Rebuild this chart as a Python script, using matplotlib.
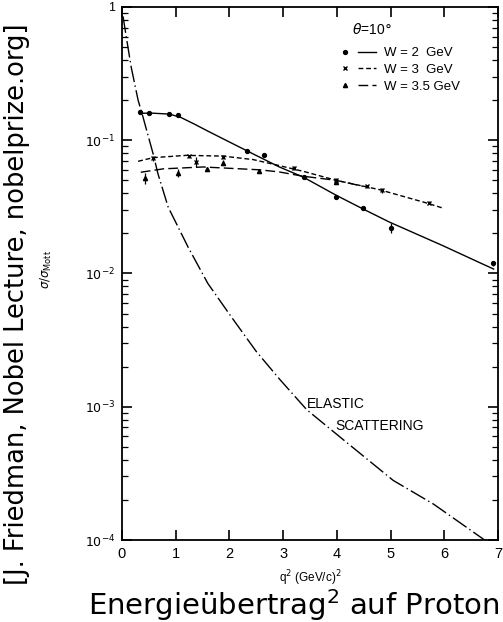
import matplotlib
matplotlib.use("Agg")
import matplotlib.pyplot as plt
from matplotlib.lines import Line2D
from matplotlib.legend_handler import HandlerTuple
from matplotlib.ticker import LogLocator, FixedLocator, NullFormatter

plt.rcParams['font.family'] = ['Liberation Sans', 'DejaVu Sans']

# --- Messpunkte (q^2 in (GeV/c)^2, sigma/sigma_Mott) ---
w2_q2 = [0.33, 0.50, 0.87, 1.04, 2.33, 2.65, 3.38, 3.99, 4.49, 5.01, 6.90]
w2_val = [0.162, 0.159, 0.158, 0.155, 0.083, 0.077, 0.053, 0.0375, 0.031, 0.022, 0.0119]
w2_err = [0.004, 0.003, 0.003, 0.003, 0.002, 0.002, 0.002, 0.0015, 0.001, 0.002, 0.0006]

w3_q2 = [0.57, 1.25, 1.38, 1.88, 3.20, 3.99, 4.57, 4.85, 5.71]
w3_val = [0.073, 0.076, 0.069, 0.075, 0.062, 0.050, 0.045, 0.042, 0.034]
w3_err = [0.003, 0.002, 0.006, 0.003, 0.002, 0.002, 0.001, 0.002, 0.001]

w35_q2 = [0.42, 1.05, 1.59, 1.88, 2.55, 3.99]
w35_val = [0.052, 0.057, 0.0605, 0.068, 0.059, 0.049]
w35_err = [0.005, 0.004, 0.001, 0.003, 0.001, 0.002]

# --- Kurven ---
w2_fit_q2 = [0.33, 0.52, 0.89, 1.10, 1.35, 1.60, 2.00, 2.44, 2.93, 3.37, 3.99, 4.48, 4.98, 5.97, 6.71, 6.92]
w2_fit_val = [0.159, 0.160, 0.157, 0.148, 0.132, 0.117, 0.097, 0.079, 0.063, 0.053, 0.0386, 0.0306, 0.0243, 0.0162, 0.0118, 0.0108]

w3_fit_q2 = [0.30, 0.58, 1.20, 1.88, 2.44, 2.93, 3.42, 3.99, 4.79, 5.65, 5.97]
w3_fit_val = [0.0695, 0.074, 0.077, 0.076, 0.0716, 0.0645, 0.0578, 0.050, 0.0426, 0.034, 0.031]

w35_fit_q2 = [0.35, 0.77, 1.51, 2.56, 2.93, 3.37, 3.99, 4.50]
w35_fit_val = [0.0575, 0.061, 0.063, 0.060, 0.0578, 0.0537, 0.050, 0.045]

el_q2 = [0.02, 0.05, 0.17, 0.30, 0.39, 0.58, 0.67, 0.86, 1.23, 1.60, 2.04, 2.50,
         2.94, 3.44, 4.00, 5.05, 5.80, 6.79]
el_val = [0.85, 0.71, 0.356, 0.20, 0.15, 0.079, 0.056, 0.0315, 0.0158, 0.0084, 0.0047,
          0.0026, 0.0016, 0.00095, 0.00062, 0.00028, 0.000186, 0.0000975]

x_ticks = [0, 1, 2, 3, 4, 5, 6, 7]
y_ticks = [1e-4, 1e-3, 1e-2, 1e-1, 1]
y_ticklabels = ['$10^{-4}$', '$10^{-3}$', '$10^{-2}$', '$10^{-1}$', '1']

fig = plt.figure(figsize=(5.03, 6.22), dpi=100)
ax = fig.add_axes([0.2425, 0.1318, 0.7475, 0.857])

# Kurven
ax.plot(w2_fit_q2, w2_fit_val, color='black', lw=1.0, ls='-')
ax.plot(w3_fit_q2, w3_fit_val, color='black', lw=1.0, ls=(0, (3.5, 2)))
ax.plot(w35_fit_q2, w35_fit_val, color='black', lw=1.0, ls=(0, (7, 3)))
ax.plot(el_q2, el_val, color='black', lw=1.0, ls=(0, (12, 2.5, 1, 2.5)))

# Datenpunkte mit Fehlerbalken
ax.errorbar(w2_q2, w2_val, yerr=w2_err, fmt='o', ms=2.8, color='black', elinewidth=0.9, capsize=0)
ax.errorbar(w3_q2, w3_val, yerr=w3_err, fmt='x', ms=3.2, mew=1.0, color='black', elinewidth=0.9, capsize=0)
ax.errorbar(w35_q2, w35_val, yerr=w35_err, fmt='^', ms=3.0, color='black', elinewidth=0.9, capsize=0)

ax.set_yscale('log')
ax.set_xlim(0, 7)
ax.set_ylim(1e-4, 1)

ax.set_xticks(x_ticks)
ax.set_xticklabels([str(t) for t in x_ticks], fontsize=10.5)
ax.yaxis.set_major_locator(FixedLocator(y_ticks))
ax.set_yticklabels(y_ticklabels, fontsize=9)
ax.yaxis.set_minor_locator(LogLocator(base=10, subs=range(2, 10), numticks=20))
ax.yaxis.set_minor_formatter(NullFormatter())

ax.tick_params(axis='both', which='major', direction='in', length=7, width=1.2,
               top=True, right=True, pad=5)
ax.tick_params(axis='y', which='minor', direction='in', length=4, width=0.9,
               left=True, right=True)
for s in ax.spines.values():
    s.set_linewidth(1.3)

ax.set_xlabel('q$^2$ (GeV/c)$^2$', fontsize=8.5, labelpad=5)
ax.set_ylabel(r'$\sigma/\sigma_{\rm Mott}$', fontsize=8.5)
ax.yaxis.set_label_coords(-0.18, 0.507)

ax.text(0.665, 0.957, r'$\theta$=10$\degree$', transform=ax.transAxes,
        fontsize=10, ha='center', va='center')
ax.text(3.45, 1.05e-3, 'ELASTIC', fontsize=10, ha='left', va='center')
ax.text(3.98, 7.2e-4, 'SCATTERING', fontsize=10, ha='left', va='center')

h2 = (Line2D([], [], marker='o', ms=2.8, ls='none', color='black'),
      Line2D([], [], ls='-', lw=1.0, color='black'))
h3 = (Line2D([], [], marker='x', ms=3.2, ls='none', color='black'),
      Line2D([], [], ls=(0, (3.5, 2)), lw=1.0, color='black'))
h35 = (Line2D([], [], marker='^', ms=3.0, ls='none', color='black'),
       Line2D([], [], ls=(0, (7, 3)), lw=1.0, color='black'))
ax.legend([h2, h3, h35], ['W = 2  GeV', 'W = 3  GeV', 'W = 3.5 GeV'],
          handler_map={tuple: HandlerTuple(ndivide=None, pad=0.3)},
          loc='upper left', bbox_to_anchor=(0.57, 0.925), frameon=False,
          fontsize=9.5, handlelength=3.0, handletextpad=0.6, labelspacing=0.35,
          borderpad=0, borderaxespad=0)

# Beschriftungen ausserhalb der Achsen
fig.text(88 / 503, 1 - 615 / 622, 'Energieübertrag$^2$ auf Proton', fontsize=21,
         family='DejaVu Sans', ha='left', va='baseline')
fig.text(17 / 503, 1 - 304 / 622, '[J. Friedman, Nobel Lecture, nobelprize.org]',
         fontsize=18.5, family='DejaVu Sans', rotation=90, ha='center', va='center')

fig.savefig('out.png', dpi=100)
plt.close(fig)
